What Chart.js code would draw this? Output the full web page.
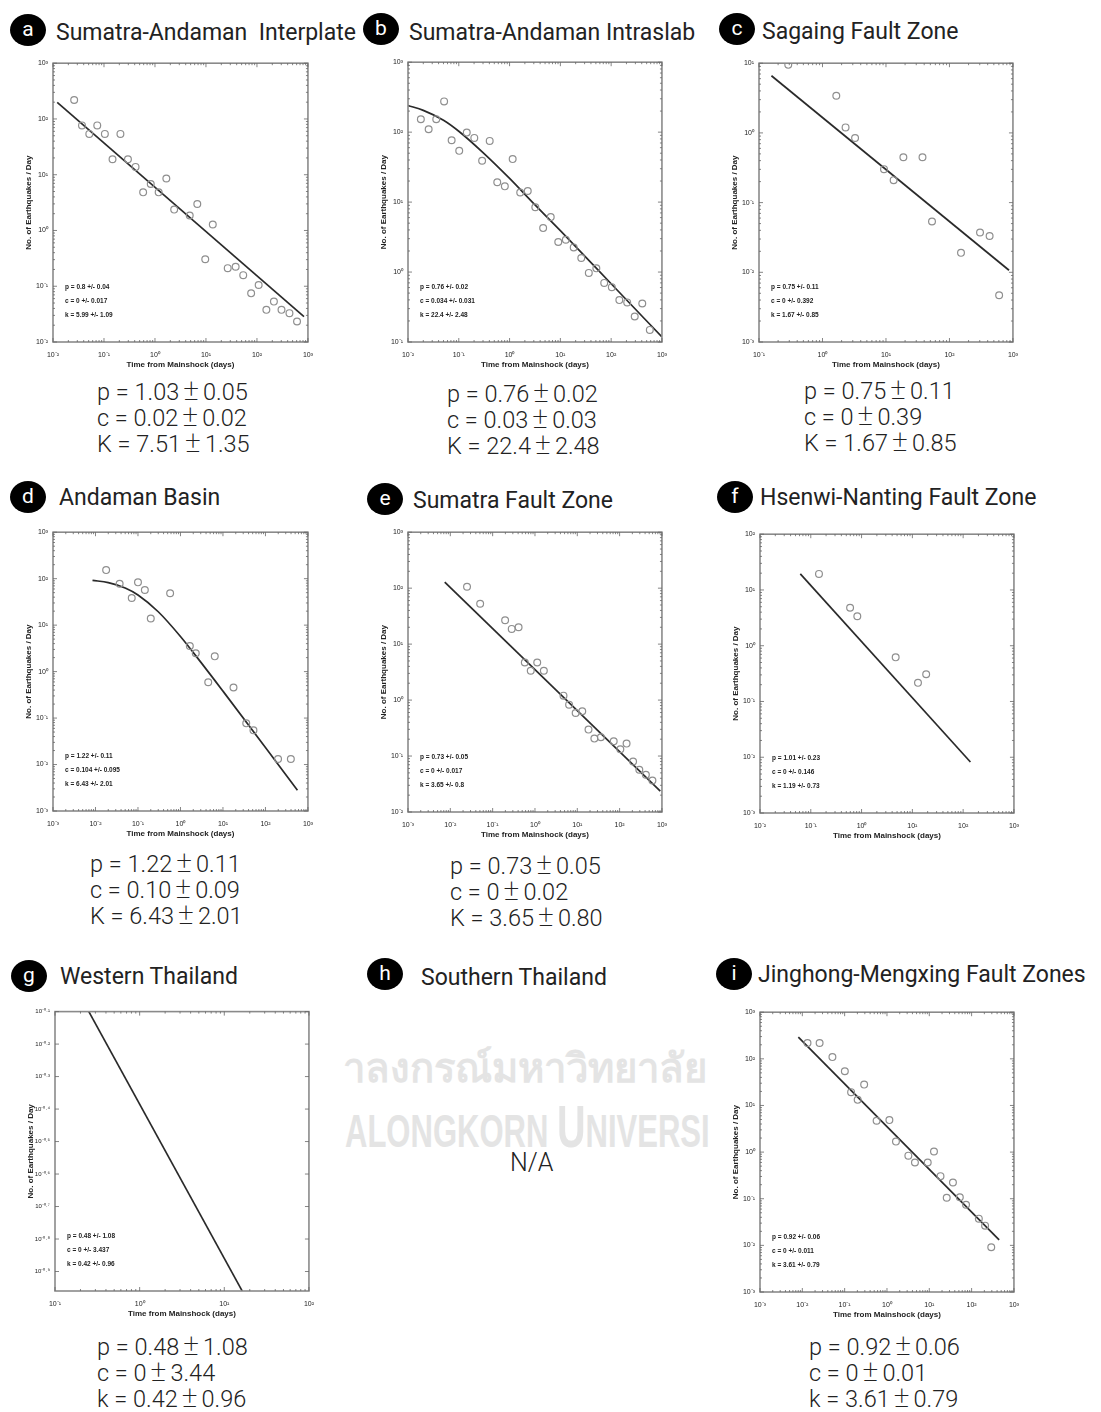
<!DOCTYPE html>
<html>
<head>
<meta charset="utf-8">
<script src="https://cdn.jsdelivr.net/npm/chart.js@4.4.0/dist/chart.umd.min.js"></script>
<style>
  body { margin: 0; background: #fff; }
  #page { position: relative; width: 1101px; height: 1412px; overflow: hidden; background: #fff; }
  .badge { position: absolute; width: 36px; height: 32px; border-radius: 50%; background: #000; color: #fff;
           font: 21px Roboto, sans-serif; text-align: center; line-height: 30px; }
  .title { position: absolute; font: 23px Roboto, sans-serif; color: #222; white-space: pre; line-height: 26px; }
  .params { position: absolute; font: 300 23.5px Roboto, sans-serif; color: #222; line-height: 26px; white-space: pre; }
  .params .pm { font-size: 30px; font-weight: 200; margin: 0 4px; line-height: 20px; }
  .wm { position: absolute; color: #e4e4e4; white-space: pre; }
  canvas { position: absolute; }
</style>
</head>
<body>
<div id="page">
  <div class="wm" style="left:343px;top:1036px;font:bold 40px 'Noto Sans','DejaVu Sans',sans-serif;">าลงกรณ์มหาวิทยาลัย</div>
  <div class="wm" style="left:345px;top:1092px;font:bold 47px 'Liberation Sans',sans-serif;transform:scaleX(0.66);transform-origin:0 0;">ALONGKORN <span style="font-size:60px">U</span>NIVERSI</div>
  <div class="params" style="left:510px;top:1150px;font-size:25px;">N/A</div>
</div>

<script>
// ---- data (t = days after mainshock, n = earthquakes per day) ----
const aT = [0.026, 0.037, 0.0515, 0.0738, 0.104, 0.147, 0.21, 0.295, 0.416, 0.586, 0.826, 1.18, 1.67, 2.38, 4.8, 6.76, 9.68, 13.6, 26.7, 38.2, 53.8, 76.9, 108, 153, 215, 303, 434, 611];
const aN = [219, 76.6, 54, 76.6, 54, 19, 54, 19, 13.8, 4.83, 6.8, 4.83, 8.57, 2.37, 1.85, 2.99, 0.305, 1.28, 0.211, 0.223, 0.158, 0.0746, 0.105, 0.0377, 0.053, 0.0377, 0.0329, 0.0233];
const aFitT = [0.0121, 836];
const aFitN = [199, 0.0286];

const bT = [0.0179, 0.0255, 0.036, 0.0514, 0.0723, 0.102, 0.1435, 0.202, 0.288, 0.406, 0.572, 0.806, 1.15, 1.62, 2.28, 3.21, 4.58, 6.46, 9.09, 12.8, 18.3, 25.8, 36.3, 51.1, 73, 103, 145, 207, 291, 410, 577];
const bN = [153, 110, 153, 275, 76.7, 54, 98.6, 82.8, 39, 75, 19.2, 16.8, 41.2, 13.7, 14.4, 8.45, 4.25, 6.1, 2.69, 2.9, 2.25, 1.59, 0.973, 1.13, 0.70, 0.608, 0.397, 0.368, 0.232, 0.356, 0.149];
const bFitT = [0.01, 0.02, 0.05, 0.1, 0.3, 1, 3, 10, 100, 1000];
const bFitN = [240, 205, 148, 103, 51, 21.8, 9.5, 3.9, 0.68, 0.118];

const cT = [0.289, 1.65, 2.31, 3.26, 9.31, 13.2, 18.8, 37.6, 53.1, 152, 303, 429, 606];
const cN = [9.47, 3.42, 1.2, 0.843, 0.302, 0.21, 0.448, 0.448, 0.0536, 0.019, 0.0373, 0.0331, 0.00468];
const cFitT = [0.157, 867];
const cFitN = [6.6, 0.0107];

const dT = [0.0178, 0.037, 0.0713, 0.1, 0.145, 0.2, 0.571, 1.66, 2.29, 4.5, 6.41, 17.7, 35.3, 52.2, 198, 396];
const dN = [153, 78, 38.5, 83.4, 57.2, 13.9, 48.5, 3.55, 2.47, 0.59, 2.13, 0.454, 0.0769, 0.0544, 0.0132, 0.0132];
const dFitT = [0.0085, 0.02, 0.05, 0.1, 0.3, 1, 3, 10, 100, 566];
const dFitN = [92, 82, 63, 44.5, 19.4, 5.7, 1.6, 0.38, 0.0233, 0.0028];

const eT = [0.0248, 0.0507, 0.197, 0.282, 0.41, 0.575, 0.794, 1.13, 1.62, 4.72, 6.4, 9.14, 13.1, 18.4, 25.3, 36.1, 72.5, 104, 146, 208, 292, 417, 596];
const eN = [106, 52.8, 26.7, 18.7, 20, 4.7, 3.34, 4.7, 3.34, 1.2, 0.828, 0.589, 0.63, 0.297, 0.205, 0.217, 0.184, 0.132, 0.167, 0.08, 0.0568, 0.0462, 0.0366];
const eFitT = [0.00738, 914];
const eFitN = [128, 0.0237];

const fT = [0.145, 0.594, 0.824, 4.69, 12.9, 18.7];
const fN = [19.4, 4.81, 3.37, 0.618, 0.216, 0.308];
const fFitT = [0.0622, 139];
const fFitN = [19.4, 0.00822];

const gT = [];
const gN = [];
const gFitT = [0.251, 16.3];
const gFitN = [0.794, 0.1096];

const iT = [0.01325, 0.0256, 0.0514, 0.101, 0.142, 0.203, 0.289, 0.569, 1.14, 1.63, 3.2, 4.58, 9.18, 12.9, 18.4, 25.8, 36.2, 52.6, 73.8, 148, 208, 291];
const iN = [218, 218, 109, 54, 19.3, 13.2, 28, 4.71, 4.86, 1.68, 0.84, 0.597, 0.597, 1.03, 0.305, 0.105, 0.223, 0.107, 0.0745, 0.0374, 0.0265, 0.00914];
const iFitT = [0.00805, 447];
const iFitN = [293, 0.0131];

// tick labels (powers of ten) per axis
const aXExp = [-2, -1, 0, 1, 2, 3], aYExp = [-2, -1, 0, 1, 2, 3];
const bXExp = [-2, -1, 0, 1, 2, 3], bYExp = [-1, 0, 1, 2, 3];
const cXExp = [-1, 0, 1, 2, 3],     cYExp = [-3, -2, -1, 0, 1];
const dXExp = [-3, -2, -1, 0, 1, 2, 3], dYExp = [-3, -2, -1, 0, 1, 2, 3];
const eXExp = [-3, -2, -1, 0, 1, 2, 3], eYExp = [-2, -1, 0, 1, 2, 3];
const fXExp = [-2, -1, 0, 1, 2, 3], fYExp = [-3, -2, -1, 0, 1, 2];
const gXExp = [-1, 0, 1, 2],        gYExp = [-0.9, -0.8, -0.7, -0.6, -0.5, -0.4, -0.3, -0.2, -0.1];
const gYRange = [-0.96, -0.1];
const iXExp = [-3, -2, -1, 0, 1, 2, 3], iYExp = [-3, -2, -1, 0, 1, 2, 3];

// fit parameters printed inside each plot
const aInset = ['p = 0.8 +/- 0.04', 'c = 0 +/- 0.017', 'k = 5.99 +/- 1.09'];
const bInset = ['p = 0.76 +/- 0.02', 'c = 0.034 +/- 0.031', 'k = 22.4 +/- 2.48'];
const cInset = ['p = 0.75 +/- 0.11', 'c = 0 +/- 0.392', 'k = 1.67 +/- 0.85'];
const dInset = ['p = 1.22 +/- 0.11', 'c = 0.104 +/- 0.095', 'k = 6.43 +/- 2.01'];
const eInset = ['p = 0.73 +/- 0.05', 'c = 0 +/- 0.017', 'k = 3.65 +/- 0.8'];
const fInset = ['p = 1.01 +/- 0.23', 'c = 0 +/- 0.146', 'k = 1.19 +/- 0.73'];
const gInset = ['p = 0.48 +/- 1.08', 'c = 0 +/- 3.437', 'k = 0.42 +/- 0.96'];
const iInset = ['p = 0.92 +/- 0.06', 'c = 0 +/- 0.011', 'k = 3.61 +/- 0.79'];

// values printed under each plot
const aParams = ['p = 1.03\u00b10.05', 'c = 0.02\u00b10.02', 'K = 7.51\u00b11.35'];
const bParams = ['p = 0.76\u00b10.02', 'c = 0.03\u00b10.03', 'K = 22.4\u00b12.48'];
const cParams = ['p = 0.75\u00b10.11', 'c = 0\u00b10.39', 'K = 1.67\u00b10.85'];
const dParams = ['p = 1.22\u00b10.11', 'c = 0.10\u00b10.09', 'K = 6.43\u00b12.01'];
const eParams = ['p = 0.73\u00b10.05', 'c = 0\u00b10.02', 'K = 3.65\u00b10.80'];
const gParams = ['p = 0.48\u00b11.08', 'c = 0\u00b13.44', 'k = 0.42\u00b10.96'];
const iParams = ['p = 0.92\u00b10.06', 'c = 0\u00b10.01', 'k = 3.61\u00b10.79'];

const SUP = { '0': '\u2070', '1': '\u00b9', '2': '\u00b2', '3': '\u00b3', '4': '\u2074', '5': '\u2075',
              '6': '\u2076', '7': '\u2077', '8': '\u2078', '9': '\u2079', '-': '\u207b', '.': '\u00b7' };
const pow10Label = e => '10' + String(e).split('').map(ch => SUP[ch]).join('');

Chart.defaults.font.family = "'Liberation Sans', Arial, sans-serif";
Chart.defaults.color = '#222';

// frame, inward ticks and the small fit text inside the plot
const framePlugin = {
  id: 'frame',
  afterDatasetsDraw(chart, args, opts) {
    const { ctx, chartArea: a, scales: { x, y } } = chart;
    ctx.save();
    ctx.strokeStyle = '#8a8a8a';
    ctx.lineWidth = 1.6;
    ctx.strokeRect(a.left, a.top, a.width, a.height);
    ctx.strokeStyle = '#666';
    ctx.lineWidth = 0.8;
    const tick = (px, py, dx, dy) => { ctx.beginPath(); ctx.moveTo(px, py); ctx.lineTo(px + dx, py + dy); ctx.stroke(); };
    opts.xTicks.forEach(([v, len]) => {
      const px = x.getPixelForValue(v);
      tick(px, a.bottom, 0, -len);
      tick(px, a.top, 0, len);
    });
    opts.yTicks.forEach(([v, len]) => {
      const py = y.getPixelForValue(v);
      tick(a.left, py, len, 0);
      tick(a.right, py, -len, 0);
    });
    ctx.fillStyle = '#222';
    ctx.font = "bold 6.5px 'Liberation Sans', Arial, sans-serif";
    ctx.textBaseline = 'middle';
    opts.inset.forEach((t, k) => ctx.fillText(t, a.left + 12, a.bottom - 55 + k * 14));
    ctx.restore();
  }
};

function tickList(exps, minor) {
  const out = [];
  exps.forEach((e, k) => {
    out.push([Math.pow(10, e), 4]);
    if (minor && k < exps.length - 1) {
      for (let m = 2; m <= 9; m++) out.push([m * Math.pow(10, e), 2]);
    }
  });
  return out;
}

const page = document.getElementById('page');

function addText(cls, left, top, html) {
  const el = document.createElement('div');
  el.className = cls;
  el.style.left = left + 'px';
  el.style.top = top + 'px';
  el.innerHTML = html;
  page.appendChild(el);
}

function makePanel(letter, badgeX, badgeY, title, titleX, titleY, rect, xExp, yExp, yRange, pts, fitT, fitN, curved, inset, params, paramsX, paramsY) {
  addText('badge', badgeX - 18, badgeY - 16, letter);
  addText('title', titleX, titleY - 13, title);
  if (params) {
    addText('params', paramsX, paramsY - 13, params.map(s => s.replace('\u00b1', '<span class="pm">\u00b1</span>')).join('\n'));
  }

  const [L, T, R, B] = rect;
  const padTop = 8, padRight = 10, yW = 50, xH = 30;
  const canvas = document.createElement('canvas');
  canvas.width = (R - L) + yW + padRight;
  canvas.height = (B - T) + padTop + xH;
  canvas.style.left = (L - yW) + 'px';
  canvas.style.top = (T - padTop) + 'px';
  page.appendChild(canvas);

  const yr = yRange || [yExp[0], yExp[yExp.length - 1]];

  new Chart(canvas.getContext('2d'), {
    type: 'scatter',
    data: {
      datasets: [
        {
          data: pts[0].map((t, k) => ({ x: t, y: pts[1][k] })),
          showLine: false,
          pointStyle: 'circle',
          pointRadius: 3.4,
          pointBorderWidth: 1.2,
          pointBorderColor: '#8f8f8f',
          pointBackgroundColor: 'rgba(0,0,0,0)'
        },
        {
          data: fitT.map((t, k) => ({ x: t, y: fitN[k] })),
          showLine: true,
          pointRadius: 0,
          borderColor: '#2a2a2a',
          borderWidth: 1.7,
          cubicInterpolationMode: curved ? 'monotone' : 'default',
          tension: curved ? 0.4 : 0
        }
      ]
    },
    options: {
      responsive: false,
      animation: false,
      layout: { padding: { top: padTop, right: padRight, left: 0, bottom: 0 } },
      plugins: {
        legend: { display: false },
        tooltip: { enabled: false },
        frame: { xTicks: tickList(xExp, true), yTicks: tickList(yExp, !yRange), inset: inset }
      },
      scales: {
        x: {
          type: 'logarithmic',
          min: Math.pow(10, xExp[0]),
          max: Math.pow(10, xExp[xExp.length - 1]),
          afterBuildTicks: s => { s.ticks = xExp.map(e => ({ value: Math.pow(10, e) })); },
          afterFit: s => { s.height = xH; },
          grid: { display: false, drawTicks: false, tickLength: 0 },
          border: { display: false },
          ticks: { autoSkip: false, maxRotation: 0, padding: 9, font: { size: 7 }, callback: (v, k) => pow10Label(xExp[k]) },
          title: { display: true, text: 'Time from Mainshock (days)', font: { size: 8, weight: 'bold' }, padding: { top: 0, bottom: 2 } }
        },
        y: {
          type: 'logarithmic',
          min: Math.pow(10, yr[0]),
          max: Math.pow(10, yr[1]),
          afterBuildTicks: s => { s.ticks = yExp.map(e => ({ value: Math.pow(10, e) })); },
          afterFit: s => { s.width = yW; },
          grid: { display: false, drawTicks: false, tickLength: 0 },
          border: { display: false },
          ticks: { autoSkip: false, padding: 5, font: { size: yRange ? 6 : 7 }, callback: (v, k) => pow10Label(yExp[k]) },
          title: { display: true, text: 'No. of Earthquakes / Day', font: { size: 8, weight: 'bold' }, padding: { top: 21, bottom: 0 } }
        }
      }
    },
    plugins: [framePlugin]
  });
}

makePanel('a', 28, 30, 'Sumatra-Andaman  Interplate', 56, 33, [53, 62, 312, 342], aXExp, aYExp, null, [aT, aN], aFitT, aFitN, false, aInset, aParams, 97, 392);
makePanel('b', 381, 29, 'Sumatra-Andaman Intraslab', 409, 33, [408, 61, 666, 342], bXExp, bYExp, null, [bT, bN], bFitT, bFitN, true, bInset, bParams, 447, 394);
makePanel('c', 737, 29, 'Sagaing Fault Zone', 762, 32, [759, 62, 1017, 342], cXExp, cYExp, null, [cT, cN], cFitT, cFitN, false, cInset, cParams, 804, 391);
makePanel('d', 28, 497, 'Andaman Basin', 59, 498, [53, 531, 312, 811], dXExp, dYExp, null, [dT, dN], dFitT, dFitN, true, dInset, dParams, 90, 864);
makePanel('e', 385, 499, 'Sumatra Fault Zone', 413, 501, [408, 531, 666, 812], eXExp, eYExp, null, [eT, eN], eFitT, eFitN, false, eInset, eParams, 450, 866);
makePanel('f', 735, 497, 'Hsenwi-Nanting Fault Zone', 760, 498, [760, 533, 1018, 813], fXExp, fYExp, null, [fT, fN], fFitT, fFitN, false, fInset, null, 0, 0);
makePanel('g', 29, 976, 'Western Thailand', 60, 977, [55, 1011, 313, 1291], gXExp, gYExp, gYRange, [gT, gN], gFitT, gFitN, false, gInset, gParams, 97, 1347);
makePanel('i', 734, 974, 'Jinghong-Mengxing Fault Zones', 758, 975, [760, 1011, 1018, 1292], iXExp, iYExp, null, [iT, iN], iFitT, iFitN, false, iInset, iParams, 809, 1347);

// panel h has no chart
addText('badge', 385 - 18, 974 - 16, 'h');
addText('title', 421, 978 - 13, 'Southern Thailand');
</script>
</body>
</html>
